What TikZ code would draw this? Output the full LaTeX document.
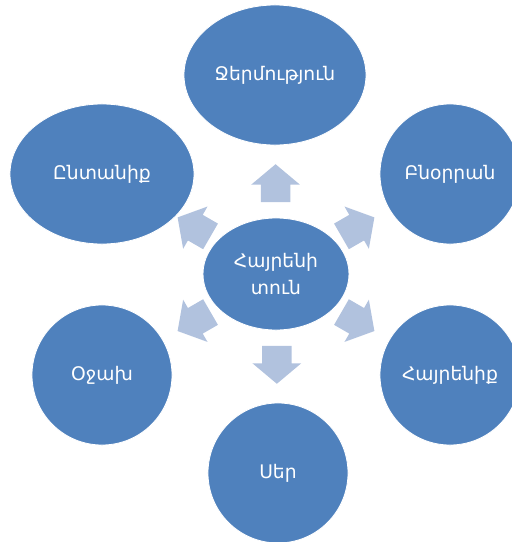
\documentclass[tikz,border=0pt]{standalone}
\usepackage{fontspec}
\setmainfont{DejaVu Sans}
\newfontfamily\armfont[Script=Armenian]{DejaVu Sans}
\usetikzlibrary{calc,shapes.geometric,shapes.arrows}
\definecolor{diskblue}{RGB}{79,129,189}
\definecolor{arrowblue}{RGB}{177,194,222}
\tikzset{
        bubble/.style={ellipse, fill=diskblue, draw=white, line width=0.6pt, text=white, inner sep=0pt, align=center, font=\armfont\fontsize{13.3}{19}\selectfont},
        pointer/.style={single arrow, fill=arrowblue, inner xsep=0pt, inner ysep=0.3625cm, minimum height=0.95cm, minimum width=1.2cm, single arrow head extend=0.24cm, single arrow tip angle=100}
}
\begin{document}
\begin{tikzpicture}[x=0.025cm,y=-0.025cm]
        \useasboundingbox (0,0) rectangle (512,542);
        \node[bubble, minimum width=3.65cm, minimum height=2.8cm] (home) at (276,274) {Հայրենի\\տուն};
        \node[bubble, minimum width=4.55cm, minimum height=3.5cm] (warmth) at (275,75) {Ջերմություն};
        \node[bubble, minimum width=4.6cm, minimum height=3.5cm] (family) at (102,174) {Ընտանիք};
        \node[bubble, circle, minimum size=3.5cm] (cradle) at (450,174) {Բնօրրան};
        \node[bubble, circle, minimum size=3.5cm] (hearth) at (102,375) {Օջախ};
        \node[bubble, circle, minimum size=3.5cm] (homeland) at (450,375) {Հայրենիք};
        \node[bubble, circle, minimum size=3.5cm] (love) at (278,473) {Սեր};
        
        \node[pointer, rotate=90] (toWarmth) at ($(home)!0.425!(warmth)$) {};
        \node[pointer, rotate=150] (toFamily) at ($(home)!0.44!(family)$) {};
        \node[pointer, rotate=30] (toCradle) at ($(home)!0.44!(cradle)$) {};
        \node[pointer, rotate=210] (toHearth) at ($(home)!0.44!(hearth)$) {};
        \node[pointer, rotate=-30] (toHomeland) at ($(home)!0.44!(homeland)$) {};
        \node[pointer, rotate=-90] (toLove) at ($(home)!0.425!(love)$) {};
\end{tikzpicture}
\end{document}
